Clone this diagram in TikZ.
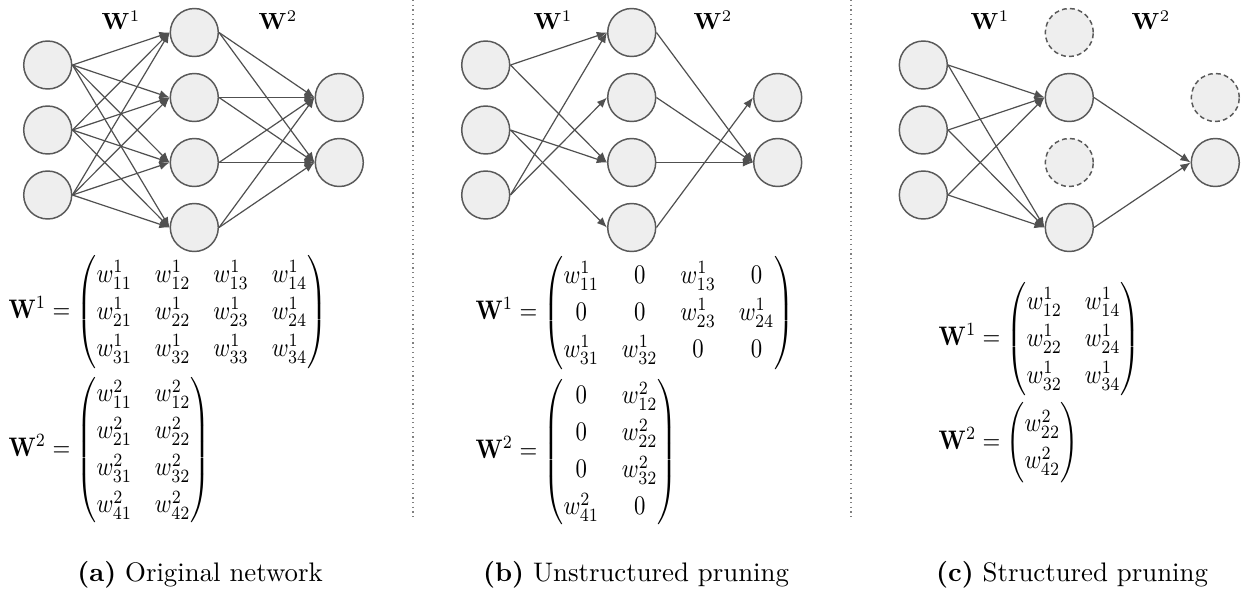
\documentclass[tikz,border=0pt]{standalone}
\usepackage{amsmath}
\usetikzlibrary{arrows.meta}

\definecolor{nodefill}{HTML}{EEEEEE}
\definecolor{nodeline}{HTML}{595959}
\definecolor{edgecol}{HTML}{505050}
\definecolor{sepcol}{HTML}{808080}

% matrices are set slightly narrow, with roomy rows
\newcommand{\eqbox}[1]{\scalebox{0.85}[1.0]{\renewcommand{\arraystretch}{1.15}$#1$}}

\tikzset{
  neuron/.style={circle, draw=nodeline, fill=nodefill, line width=0.55pt,
                 minimum size=17.9pt, inner sep=0pt},
  pruned/.style={neuron, dash pattern=on 1.8pt off 1.2pt},
  conn/.style={draw=edgecol, line width=0.45pt, -{Latex[length=3.8pt,width=3.1pt]}},
  sep/.style={draw=sepcol, line width=0.45pt, dash pattern=on 0.45pt off 1.3pt},
  wlabel/.style={inner sep=0pt},
  eqn/.style={anchor=west, inner sep=0pt},
  captext/.style={anchor=base, inner sep=0pt},
}

\begin{document}
\begin{tikzpicture}[x=0.373pt, y=-0.373pt]
\useasboundingbox (0,0) rectangle (1244,590);

% ---------- separators ----------
\coordinate (s1t) at (413,0);  \coordinate (s1b) at (413,520);
\coordinate (s2t) at (851,0);  \coordinate (s2b) at (851,520);
\draw[sep] (s1t) -- (s1b);
\draw[sep] (s2t) -- (s2b);

% ---------- (a) original network ----------
\foreach \i/\y in {1/65,2/130,3/195}
  \node[neuron] (a-i\i) at (47.7,\y) {};
\foreach \j/\y in {1/32.5,2/97.5,3/162.5,4/227.5}
  \node[neuron] (a-h\j) at (194.3,\y) {};
\foreach \k/\y in {1/97.5,2/162.5}
  \node[neuron] (a-o\k) at (339.3,\y) {};
\foreach \i in {1,2,3}
  \foreach \j in {1,2,3,4}
    \draw[conn] (a-i\i.east) -- (a-h\j.west);
\foreach \j in {1,2,3,4}
  \foreach \k in {1,2}
    \draw[conn] (a-h\j.east) -- (a-o\k.west);
\node[wlabel] (a-l1) at (121,20) {\scalebox{0.87}{$\mathbf{W}^1$}};
\node[wlabel] (a-l2) at (278,20) {\scalebox{0.87}{$\mathbf{W}^2$}};

\node[eqn] (a-m1) at (8,312) {\eqbox{\mathbf{W}^1 = \begin{pmatrix}
  w^1_{11} & w^1_{12} & w^1_{13} & w^1_{14}\\
  w^1_{21} & w^1_{22} & w^1_{23} & w^1_{24}\\
  w^1_{31} & w^1_{32} & w^1_{33} & w^1_{34}
\end{pmatrix}}};
\node[eqn] (a-m2) at (8,450) {\eqbox{\mathbf{W}^2 = \begin{pmatrix}
  w^2_{11} & w^2_{12}\\
  w^2_{21} & w^2_{22}\\
  w^2_{31} & w^2_{32}\\
  w^2_{41} & w^2_{42}
\end{pmatrix}}};
\node[captext] (a-cap) at (200,581) {\textbf{(a)} Original network};

% ---------- (b) unstructured pruning ----------
\foreach \i/\y in {1/65,2/130,3/195}
  \node[neuron] (b-i\i) at (485.7,\y) {};
\foreach \j/\y in {1/32.5,2/97.5,3/162.5,4/227.5}
  \node[neuron] (b-h\j) at (631.7,\y) {};
\foreach \k/\y in {1/97.5,2/162.5}
  \node[neuron] (b-o\k) at (777.7,\y) {};
\foreach \i/\j in {1/1,1/3,2/3,2/4,3/1,3/2}
  \draw[conn] (b-i\i.east) -- (b-h\j.west);
\foreach \j/\k in {1/2,2/2,3/2,4/1}
  \draw[conn] (b-h\j.east) -- (b-o\k.west);
\node[wlabel] (b-l1) at (553,20) {\scalebox{0.87}{$\mathbf{W}^1$}};
\node[wlabel] (b-l2) at (713,20) {\scalebox{0.87}{$\mathbf{W}^2$}};

\node[eqn] (b-m1) at (475,313) {\eqbox{\mathbf{W}^1 = \begin{pmatrix}
  w^1_{11} & 0 & w^1_{13} & 0\\
  0 & 0 & w^1_{23} & w^1_{24}\\
  w^1_{31} & w^1_{32} & 0 & 0
\end{pmatrix}}};
\node[eqn] (b-m2) at (475,452) {\eqbox{\mathbf{W}^2 = \begin{pmatrix}
  0 & w^2_{12}\\
  0 & w^2_{22}\\
  0 & w^2_{32}\\
  w^2_{41} & 0
\end{pmatrix}}};
\node[captext] (b-cap) at (636,581) {\textbf{(b)} Unstructured pruning};

% ---------- (c) structured pruning ----------
\foreach \i/\y in {1/65,2/130,3/195}
  \node[neuron] (c-i\i) at (923.3,\y) {};
\node[pruned] (c-h1) at (1069.3,32.5) {};
\node[neuron] (c-h2) at (1069.3,97.5) {};
\node[pruned] (c-h3) at (1069.3,162.5) {};
\node[neuron] (c-h4) at (1069.3,227.5) {};
\node[pruned] (c-o1) at (1215.3,97.5) {};
\node[neuron] (c-o2) at (1215.3,162.5) {};
\foreach \i in {1,2,3}
  \foreach \j in {2,4}
    \draw[conn] (c-i\i.east) -- (c-h\j.west);
\foreach \j in {2,4}
  \draw[conn] (c-h\j.east) -- (c-o2.west);
\node[wlabel] (c-l1) at (990,20) {\scalebox{0.87}{$\mathbf{W}^1$}};
\node[wlabel] (c-l2) at (1151,20) {\scalebox{0.87}{$\mathbf{W}^2$}};

\node[eqn] (c-m1) at (938,339) {\eqbox{\mathbf{W}^1 = \begin{pmatrix}
  w^1_{12} & w^1_{14}\\
  w^1_{22} & w^1_{24}\\
  w^1_{32} & w^1_{34}
\end{pmatrix}}};
\node[eqn] (c-m2) at (938,443) {\eqbox{\mathbf{W}^2 = \begin{pmatrix}
  w^2_{22}\\
  w^2_{42}
\end{pmatrix}}};
\node[captext] (c-cap) at (1072,581) {\textbf{(c)} Structured pruning};

\end{tikzpicture}
\end{document}
